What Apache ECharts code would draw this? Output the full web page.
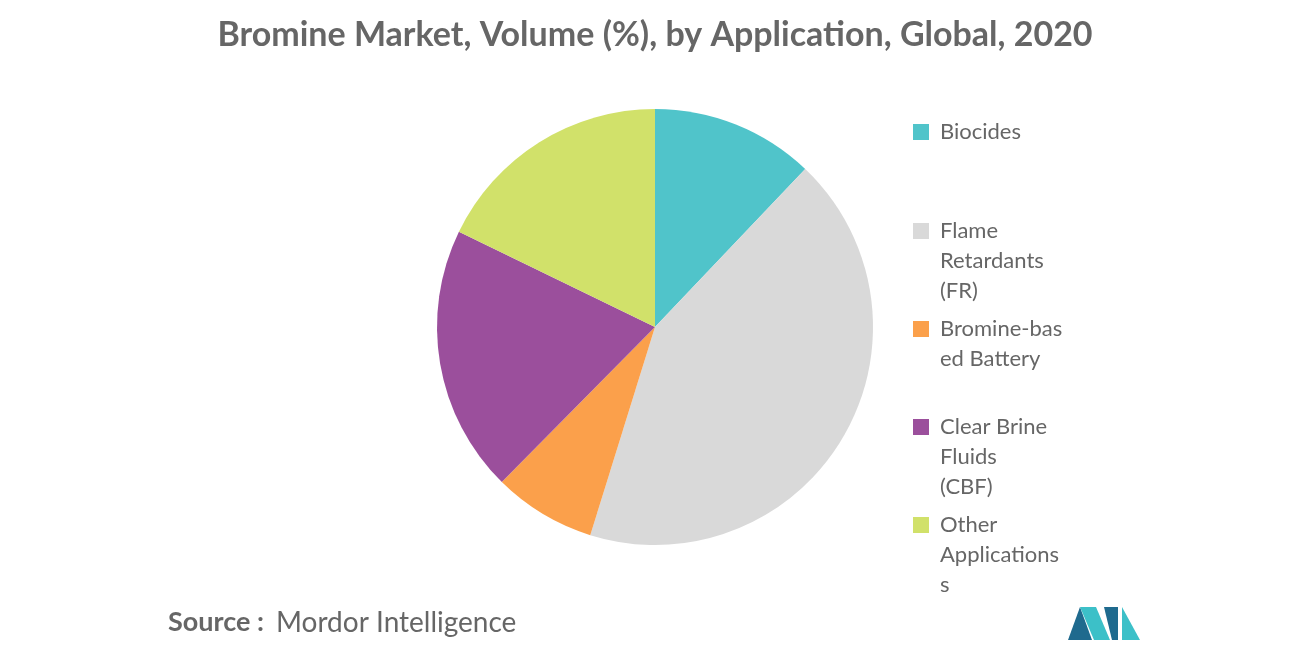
<!DOCTYPE html>
<html><head><meta charset="utf-8">
<script src="https://cdn.jsdelivr.net/npm/echarts@6/dist/echarts.min.js"></script>
<style>html,body{margin:0;padding:0;background:#fff}#c{width:1310px;height:655px}</style>
</head><body><div id="c"></div>
<script>
const categories = ['Biocides','Flame Retardants (FR)','Bromine-based Battery','Clear Brine Fluids (CBF)','Other Applications'];
const values = [12.1, 42.7, 7.6, 19.8, 17.8];
const colors = ['#50c4ca','#d9d9d9','#fba04b','#9b4f9c','#d1e16a'];
const legendLines = [['Biocides'],['Flame','Retardants','(FR)'],['Bromine-bas','ed Battery'],['Clear Brine','Fluids','(CBF)'],['Other','Applications','s']];
const font = 'Lato, "Noto Sans", sans-serif';
const legendCenter = [131, 230, 328, 426, 524];
const legends = categories.map((c,i)=>({
  data:[c], left:908, top:legendCenter[i]-15, itemWidth:16, itemHeight:16, itemGap:10,
  icon:'rect', selectedMode:false,
  formatter:()=>legendLines[i][0],
  textStyle:{color:'#666', fontSize:22, fontFamily:font, padding:[0,0,0,6]}
}));
const graphics = [];
legendLines.forEach((ls,i)=>ls.slice(1).forEach((t,j)=>graphics.push({
  type:'text', left:940, top:legendCenter[i]+30*(j+1)-10,
  style:{text:t, fill:'#666', font:'22px '+font}
})));
graphics.push({type:'text', left:168, top:609, style:{text:'Source :', fill:'#666', font:'bold 27px '+font}});
graphics.push({type:'text', left:276, top:609, style:{text:'Mordor Intelligence', fill:'#666', font:'28px '+font}});
graphics.push({type:'polygon', shape:{points:[[1068,640],[1080,607],[1092,640]]}, style:{fill:'#1f6a8e'}});
graphics.push({type:'polygon', shape:{points:[[1080,607],[1096,607],[1110,640],[1094,640]]}, style:{fill:'#3cc0c8'}});
graphics.push({type:'polygon', shape:{points:[[1104,607],[1118,607],[1118,640],[1112,640]]}, style:{fill:'#1f6a8e'}});
graphics.push({type:'polygon', shape:{points:[[1122,607],[1140,640],[1122,640]]}, style:{fill:'#3cc0c8'}});
const chart = echarts.init(document.getElementById('c'));
chart.setOption({
  animation:false,
  color:colors,
  title:{text:'Bromine Market, Volume (%), by Application, Global, 2020', left:'center', top:13,
    textStyle:{color:'#666', fontSize:34, fontWeight:'bold', fontFamily:font}},
  legend:legends,
  graphic:graphics,
  series:[{type:'pie', center:[655,327], radius:[0,218], startAngle:90, clockwise:true,
    label:{show:false}, labelLine:{show:false},
    itemStyle:{borderColor:'#fff', borderWidth:0},
    data:categories.map((c,i)=>({name:c, value:values[i]}))}]
});
</script></body></html>
